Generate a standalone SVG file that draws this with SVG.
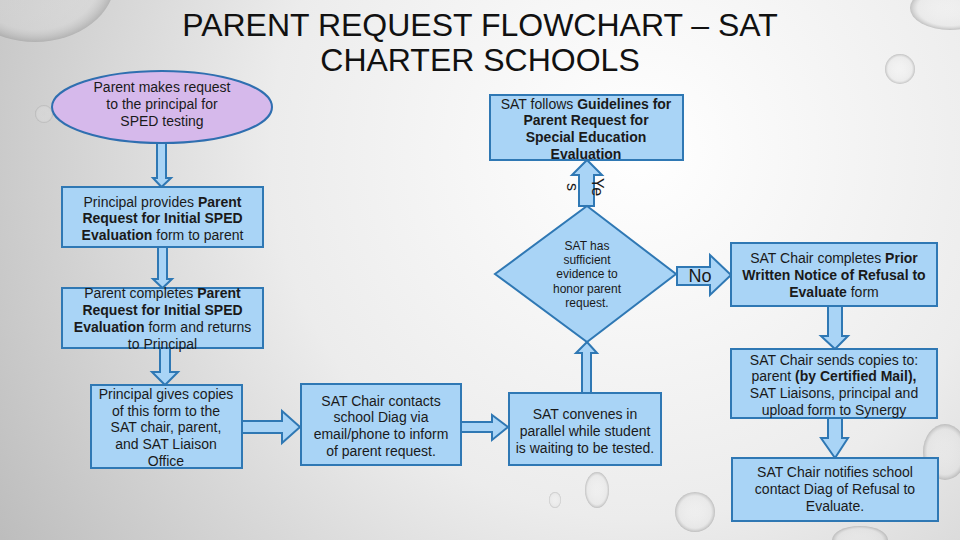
<svg xmlns="http://www.w3.org/2000/svg" width="960" height="540" viewBox="0 0 960 540">
<defs>
<radialGradient id="bg" cx="640" cy="150" r="820" gradientUnits="userSpaceOnUse">
<stop offset="0" stop-color="#ffffff"/>
<stop offset="0.45" stop-color="#ececec"/>
<stop offset="1" stop-color="#b4b4b4"/>
</radialGradient>
<radialGradient id="drop" cx="0.5" cy="0.5" r="0.5">
<stop offset="0" stop-color="#ffffff" stop-opacity="0.1"/>
<stop offset="0.8" stop-color="#e0e0e0" stop-opacity="0.3"/>
<stop offset="1" stop-color="#9a9a9a" stop-opacity="0.55"/>
</radialGradient>
<style>
.box{fill:#a9d4f6;stroke:#2f78b4;stroke-width:2}
.arrow{fill:#a9d4f6;stroke:#2f78b4;stroke-width:2;stroke-linejoin:miter}
.ell{fill:#d6b9eb;stroke:#2f6fb0;stroke-width:2}
.t{font-family:"Liberation Sans",Arial,sans-serif;font-size:14px;fill:#1a1a1a;text-anchor:middle}
.s{font-size:12px}
.b{font-weight:bold}
.title{font-family:"Liberation Sans",Arial,sans-serif;font-size:32px;fill:#111;text-anchor:middle}
.drop{fill:url(#drop)}
</style>
</defs>
<rect width="960" height="540" fill="url(#bg)"/>
<g id="droplets">
<ellipse class="drop" cx="35" cy="-20" rx="80" ry="62"/>
<circle class="drop" cx="44" cy="114" r="9"/>
<circle class="drop" cx="900" cy="69" r="15"/>
<ellipse class="drop" cx="950" cy="8" rx="40" ry="22"/>
<ellipse class="drop" cx="597" cy="490" rx="12" ry="18"/>
<ellipse class="drop" cx="555" cy="500" rx="6" ry="8"/>
<ellipse class="drop" cx="695" cy="512" rx="20" ry="20"/>
<ellipse class="drop" cx="945" cy="452" rx="22" ry="28"/>
<ellipse class="drop" cx="860" cy="540" rx="28" ry="14"/>
</g>
<g id="title">
<text class="title" x="480" y="36">PARENT REQUEST FLOWCHART – SAT</text>
<text class="title" x="480" y="71">CHARTER SCHOOLS</text>
</g>
<g id="connectors">
<polygon class="arrow" points="157,142 166,142 166,178 171,178 161.5,187 153,178 157,178"/>
<polygon class="arrow" points="158,247 167,247 167,279 172,279 162.5,288 153,279 158,279"/>
<polygon class="arrow" points="160,348 170,348 170,372 178,372 165,385 152,372 160,372"/>
<polygon class="arrow" points="242,421 282,421 282,411 300,427 282,443 282,433 242,433"/>
<polygon class="arrow" points="461,422 492,422 492,415 508,427 492,440 492,432 461,432"/>
<polygon class="arrow" points="582,393 582,353 576,353 587,342 597,353 591,353 591,393"/>
<polygon class="arrow" points="579,206 579,175 572,175 587,160 602,175 594,175 594,206"/>
<polygon class="arrow" points="677,267 710,267 710,255 731,275 710,295 710,285 677,285"/>
<polygon class="arrow" points="828,306 842,306 842,336 848,336 835,349 821,336 828,336"/>
<polygon class="arrow" points="828,418 842,418 842,438 848,438 835,458 821,438 828,438"/>
<text class="t" x="700" y="282" style="font-size:18px">No</text>
<text class="t" transform="translate(597,187) rotate(90)" y="5" style="font-size:16px">Ye</text>
<text class="t" transform="translate(572,187) rotate(90)" y="5" style="font-size:16px">s</text>
</g>
<g id="n-parent-request">
<ellipse class="ell" cx="162" cy="107" rx="110" ry="36"/>
<text class="t" x="162" y="92">Parent makes request</text>
<text class="t" x="162" y="109">to the principal for</text>
<text class="t" x="162" y="126">SPED testing</text>
</g>
<g id="n-guidelines">
<rect class="box" x="490" y="95" width="193" height="65"/>
<text class="t" x="586" y="109">SAT follows <tspan class="b">Guidelines for</tspan></text>
<text class="t b" x="586" y="125">Parent Request for</text>
<text class="t b" x="586" y="142">Special Education</text>
<text class="t b" x="586" y="159">Evaluation</text>
</g>
<g id="n-principal-provides">
<rect class="box" x="62" y="187" width="201" height="60"/>
<text class="t" x="162.5" y="207">Principal provides <tspan class="b">Parent</tspan></text>
<text class="t b" x="162.5" y="223">Request for Initial SPED</text>
<text class="t" x="162.5" y="240"><tspan class="b">Evaluation</tspan> form to parent</text>
</g>
<g id="n-parent-completes">
<rect class="box" x="62" y="288" width="201" height="60"/>
<text class="t" x="162.5" y="298">Parent completes <tspan class="b">Parent</tspan></text>
<text class="t b" x="162.5" y="315">Request for Initial SPED</text>
<text class="t" x="162.5" y="332"><tspan class="b">Evaluation</tspan> form and returns</text>
<text class="t" x="162.5" y="349">to Principal</text>
</g>
<g id="n-principal-gives">
<rect class="box" x="91" y="385" width="151" height="83"/>
<text class="t" x="166" y="399">Principal gives copies</text>
<text class="t" x="166" y="416">of this form to the</text>
<text class="t" x="166" y="432">SAT chair, parent,</text>
<text class="t" x="166" y="449">and SAT Liaison</text>
<text class="t" x="166" y="466">Office</text>
</g>
<g id="n-chair-contacts">
<rect class="box" x="301" y="384" width="160" height="81"/>
<text class="t" x="381" y="406">SAT Chair contacts</text>
<text class="t" x="381" y="422">school Diag via</text>
<text class="t" x="381" y="439">email/phone to inform</text>
<text class="t" x="381" y="456">of parent request.</text>
</g>
<g id="n-convenes">
<rect class="box" x="509" y="393" width="152" height="72"/>
<text class="t" x="585" y="419">SAT convenes in</text>
<text class="t" x="585" y="436">parallel while student</text>
<text class="t" x="585" y="453">is waiting to be tested.</text>
</g>
<g id="n-decision">
<polygon class="box" points="587,206 676,274 587,342 495,274"/>
<text class="t s" x="587" y="250">SAT has</text>
<text class="t s" x="587" y="264">sufficient</text>
<text class="t s" x="587" y="278">evidence to</text>
<text class="t s" x="587" y="293">honor parent</text>
<text class="t s" x="587" y="307">request.</text>
</g>
<g id="n-prior-notice">
<rect class="box" x="731" y="243" width="206" height="63"/>
<text class="t" x="834" y="263">SAT Chair completes <tspan class="b">Prior</tspan></text>
<text class="t b" x="834" y="280">Written Notice of Refusal to</text>
<text class="t" x="834" y="297"><tspan class="b">Evaluate</tspan> form</text>
</g>
<g id="n-sends-copies">
<rect class="box" x="731" y="349" width="206" height="69"/>
<text class="t" x="834" y="365">SAT Chair sends copies to:</text>
<text class="t" x="834" y="381">parent <tspan class="b">(by Certified Mail),</tspan></text>
<text class="t" x="834" y="398">SAT Liaisons, principal and</text>
<text class="t" x="834" y="415">upload form to Synergy</text>
</g>
<g id="n-notifies">
<rect class="box" x="732" y="458" width="206" height="63"/>
<text class="t" x="835" y="477">SAT Chair notifies school</text>
<text class="t" x="835" y="494">contact Diag of Refusal to</text>
<text class="t" x="835" y="511">Evaluate.</text>
</g>
</svg>
